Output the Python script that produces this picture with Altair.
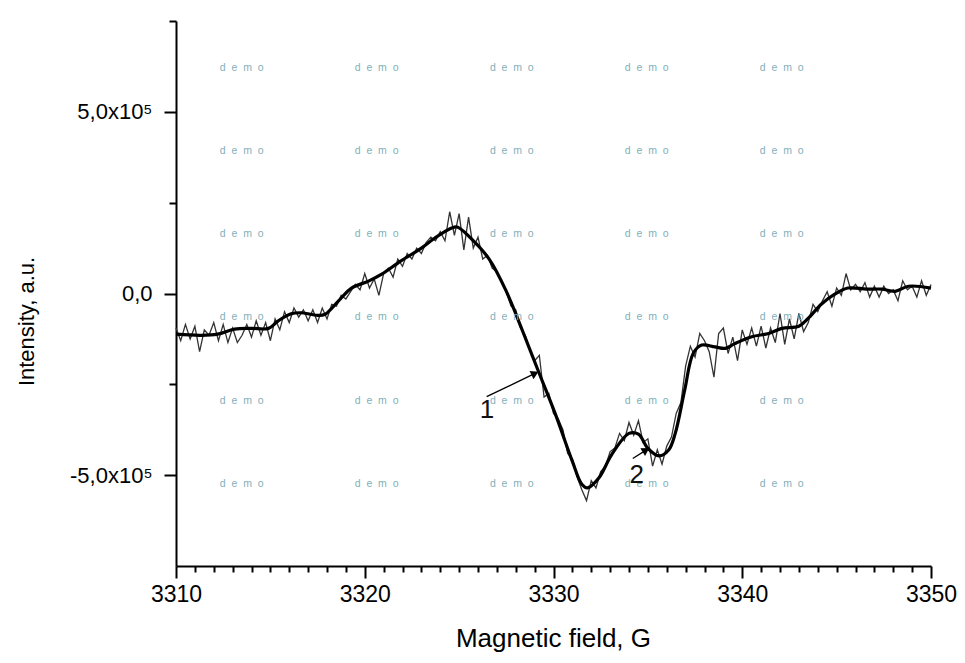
import altair as alt
import pandas as pd

FONT = "Liberation Sans"

# ---------------- data (intensity in units of 1e5 a.u.) ----------------
smooth_field = [3310.0, 3311.3, 3312.2, 3313.1, 3314.0, 3314.9, 3315.4, 3316.1, 3316.6,
                3317.5, 3317.9, 3318.6, 3319.3, 3320.2, 3320.9, 3321.9, 3323.0, 3323.7,
                3324.6, 3324.9, 3325.6, 3326.6, 3327.5, 3328.3, 3329.2, 3330.1, 3331.0,
                3331.5, 3331.8, 3332.4, 3333.1, 3334.0, 3334.5, 3335.0, 3335.6, 3336.1,
                3336.45, 3336.95, 3337.4, 3337.85, 3338.55, 3339.1, 3339.6, 3340.5,
                3341.4, 3342.1, 3343.0, 3343.5, 3344.2, 3344.9, 3345.6, 3346.6, 3347.4,
                3348.1, 3348.8, 3350.0]
smooth_int = [-1.12, -1.15, -1.12, -0.98, -0.96, -0.96, -0.76, -0.56, -0.53,
              -0.60, -0.57, -0.21, 0.15, 0.34, 0.53, 0.89, 1.25, 1.52,
              1.80, 1.83, 1.53, 0.94, 0.06, -0.95, -2.14, -3.32, -4.62,
              -5.25, -5.35, -5.08, -4.42, -3.85, -3.87, -4.26, -4.47, -4.31,
              -3.85, -2.66, -1.65, -1.42, -1.47, -1.51, -1.38, -1.19,
              -1.10, -0.96, -0.90, -0.68, -0.29, -0.02, 0.15, 0.12, 0.12,
              0.06, 0.20, 0.15]

noisy_start = 3310.0
noisy_step = 0.25
noisy_int = [
    -0.95, -1.30, -0.85, -1.25, -0.90, -1.60, -1.00, -1.15,
    -0.80, -1.30, -0.85, -1.35, -0.95, -1.35, -1.15, -0.85,
    -1.20, -0.75, -1.15, -0.80, -1.30, -0.70, -1.00, -0.50,
    -0.80, -0.40, -0.65, -0.45, -0.75, -0.45, -0.80, -0.40,
    -0.70, -0.30, -0.35, -0.05, -0.15, 0.05, 0.25, 0.10,
    0.55, 0.15, 0.40, -0.05, 0.55, 0.70, 0.45, 0.95,
    0.75, 1.10, 0.95, 1.25, 1.10, 1.40, 1.55, 1.45,
    1.70, 1.45, 2.25, 1.60, 2.20, 1.20, 2.10, 1.25,
    1.55, 0.95, 1.05, 0.70, 0.60, 0.30, 0.05, -0.35,
    -0.45, -0.95, -1.15, -1.55, -1.85, -1.70, -2.85, -2.75,
    -3.30, -3.45, -3.75, -4.40, -4.55, -5.05, -5.40, -5.70,
    -5.15, -5.35, -4.90, -4.75, -4.35, -4.25, -3.85, -4.05,
    -3.55, -3.90, -3.50, -4.10, -4.00, -4.75, -4.30, -4.70,
    -4.20, -3.95, -3.30, -3.00, -2.00, -1.45, -1.75, -1.10,
    -1.30, -1.60, -2.30, -1.10, -0.95, -1.65, -1.20, -1.85,
    -1.00, -1.40, -0.95, -1.45, -0.90, -1.50, -0.95, -1.35,
    -0.55, -1.40, -0.70, -1.25, -0.55, -1.05, -0.80, -0.30,
    -0.50, -0.20, 0.05, -0.35, 0.15, -0.05, 0.55, 0.10,
    0.25, 0.05, 0.30, -0.10, 0.20, -0.10, 0.20, 0.00,
    0.10, -0.20, 0.35, 0.10, 0.20, -0.10, 0.35, -0.05,
    0.25]
noisy_field = [noisy_start + noisy_step * i for i in range(len(noisy_int))]

x_major = [3310, 3320, 3330, 3340, 3350]
x_minor = [v for v in range(3310, 3351) if v % 10 != 0]
y_major = [-5, 0, 5]
y_minor = [-2.5, 2.5, 7.5]

# annotations
arrow_x = [3326.46, 3334.20]
arrow_y = [-2.84, -4.54]
arrow_x2 = [3329.02, 3334.90]
arrow_y2 = [-2.20, -4.31]
arrow_angle = [334, 328]
label_text = ["1", "2"]
label_x = [3326.48, 3334.41]
label_y = [-3.21, -5.00]

# watermark grid
demo_cols = [3313.48, 3320.63, 3327.79, 3334.94, 3342.09]
demo_rows = [6.22, 3.92, 1.63, -0.66, -2.95, -5.25]

# ---------------- frames ----------------
noisy_df = pd.DataFrame({"field": noisy_field, "intensity": noisy_int})
smooth_df = pd.DataFrame({"field": smooth_field, "intensity": smooth_int})
arrow_df = pd.DataFrame({"x": arrow_x, "y": arrow_y, "x2": arrow_x2, "y2": arrow_y2,
                         "angle": arrow_angle})
label_df = pd.DataFrame({"x": label_x, "y": label_y, "t": label_text})
demo_df = pd.DataFrame([{"x": c, "y": r} for r in demo_rows for c in demo_cols])

xs = alt.Scale(domain=[3310, 3350], nice=False, zero=False)
ys = alt.Scale(domain=[-7.5, 7.5], nice=False, zero=False)

label_expr = ("datum.value == 0 ? '0,0' : (datum.value > 0 ? '5,0x10\u2075' : '-5,0x10\u2075')")

x_axis_major = alt.Axis(values=x_major, format="d", orient="bottom", grid=False,
                        domainColor="black", domainWidth=2, tickColor="black", tickWidth=2,
                        tickSize=12, labelFont=FONT, labelFontSize=23, labelColor="black",
                        labelPadding=5, labelFlush=False, labelOverlap=False,
                        title="Magnetic field, G", titleFont=FONT,
                        titleFontSize=26, titleFontWeight="normal", titleColor="black",
                        titleX=377, titleY=72, titleAlign="center", titleBaseline="middle")
y_axis_major = alt.Axis(values=y_major, orient="left", grid=False, labelExpr=label_expr,
                        domainColor="black", domainWidth=2, tickColor="black", tickWidth=2,
                        tickSize=12, labelFont=FONT, labelFontSize=22, labelColor="black",
                        labelPadding=12, labelFlush=False,
                        title="Intensity, a.u.", titleFont=FONT,
                        titleFontSize=22, titleFontWeight="normal", titleColor="black",
                        titleX=-150, titleY=300, titleAlign="center", titleBaseline="middle",
                        titleAngle=270)
x_axis_minor = alt.Axis(values=x_minor, orient="bottom", grid=False, labels=False, title=None,
                        domain=False, tickColor="black", tickWidth=2, tickSize=6)
y_axis_minor = alt.Axis(values=y_minor, orient="left", grid=False, labels=False, title=None,
                        domain=False, tickColor="black", tickWidth=2, tickSize=7)

noisy = alt.Chart(noisy_df).mark_line(color="#333333", strokeWidth=1.3).encode(
    x=alt.X("field:Q", scale=xs, axis=x_axis_major),
    y=alt.Y("intensity:Q", scale=ys, axis=y_axis_major),
)
smooth = alt.Chart(smooth_df).mark_line(color="black", strokeWidth=3.2,
                                        interpolate="catmull-rom").encode(
    x=alt.X("field:Q", scale=xs, axis=x_axis_minor),
    y=alt.Y("intensity:Q", scale=ys, axis=y_axis_minor),
)

demo = alt.Chart(demo_df).mark_text(text="d\u00a0\u00a0e\u00a0\u00a0m\u00a0\u00a0o", font=FONT,
                                    fontSize=10.5, color="#7fb0ba").encode(
    x=alt.X("x:Q", scale=xs, axis=None),
    y=alt.Y("y:Q", scale=ys, axis=None),
)

arrows = alt.Chart(arrow_df).mark_rule(color="black", strokeWidth=1.3).encode(
    x=alt.X("x:Q", scale=xs, axis=None),
    y=alt.Y("y:Q", scale=ys, axis=None),
    x2="x2:Q", y2="y2:Q",
)
heads = alt.Chart(arrow_df).mark_point(shape="triangle-right", filled=True, color="black",
                                       opacity=1, size=80).encode(
    x=alt.X("x2:Q", scale=xs, axis=None),
    y=alt.Y("y2:Q", scale=ys, axis=None),
    angle=alt.Angle("angle:Q", scale=None),
)
labels = alt.Chart(label_df).mark_text(font=FONT, fontSize=26, color="#111111").encode(
    x=alt.X("x:Q", scale=xs, axis=None),
    y=alt.Y("y:Q", scale=ys, axis=None),
    text="t:N",
)

chart = alt.layer(noisy, smooth, demo, arrows, heads, labels).resolve_axis(
    x="independent", y="independent"
).properties(
    width=755, height=545,
    autosize=alt.AutoSizeParams(type="none"),
    padding={"left": 176, "top": 21, "right": 34, "bottom": 97},
    background="white",
).configure_view(stroke=None)

chart.save("out.html", embed_options={"renderer": "svg", "actions": False})
